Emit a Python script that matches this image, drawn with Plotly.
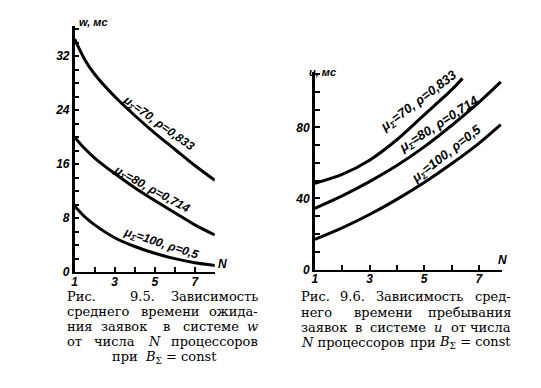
import plotly.graph_objects as go

W, H = 541, 388
OFF = 8  # the page body margin shifts the plot by this many pixels

# ---------- data: Fig 9.5 (waiting time w vs N) ----------
n_left = [1, 1.5, 2, 3, 4, 5, 6, 7, 8]
w_70 = [34.5, 31.5, 29.3, 26.0, 23.2, 20.6, 18.2, 15.8, 13.6]
w_80 = [20.0, 18.3, 16.9, 14.6, 12.5, 10.6, 8.8, 7.0, 5.5]
w_100 = [9.8, 8.2, 7.0, 5.1, 3.8, 2.8, 2.0, 1.4, 1.0]

# ---------- data: Fig 9.6 (residence time u vs N) ----------
n_r70 = [1, 2, 3, 4, 5, 6, 6.4]
u_70 = [48.5, 53.5, 61.5, 73.0, 87.0, 101.0, 107.5]
n_r = [1, 2, 3, 4, 5, 6, 7, 7.8]
u_80 = [34.5, 41.5, 49.5, 58.5, 69.0, 81.0, 94.0, 105.5]
u_100 = [17.0, 23.5, 31.0, 39.5, 49.0, 59.5, 71.0, 81.5]

left_yticks = list(range(0, 37, 2))
left_ylabels = ["0", "8", "16", "24", "32"]
right_yticks = list(range(0, 111, 10))
right_ylabels = ["0", "40", "80"]
xticks_left = list(range(1, 9))
xticks_right = list(range(1, 8))
xlabels = ["1", "3", "5", "7"]

curve_labels = ["μ<sub>Σ</sub>=70, ρ=0,833", "μ<sub>Σ</sub>=80, ρ=0,714", "μ<sub>Σ</sub>=100, ρ=0,5"]


def fx(x):
    return (x - OFF) / W


def fy(y):
    return 1 - (y - OFF) / H


sans = "Liberation Sans Narrow, Liberation Sans, Arial, sans-serif"
tickfont = dict(family=sans, size=12, color="black", style="italic", weight="bold")
lblfont = dict(family=sans, size=12, color="black", style="italic", weight="bold")
lblfont_r = dict(family=sans, size=13, color="black", style="italic", weight="bold")
titlefont = dict(family=sans, size=11, color="black", style="italic", weight="bold")
capfont = dict(family="DejaVu Serif, Liberation Serif, serif", size=13, color="black")

fig = go.Figure()
line = dict(color="black", width=3, shape="spline", smoothing=0.8)
for ys in (w_70, w_80, w_100):
    fig.add_trace(go.Scatter(x=n_left, y=ys, mode="lines", line=line,
                             xaxis="x", yaxis="y", showlegend=False, hoverinfo="skip"))
fig.add_trace(go.Scatter(x=n_r70, y=u_70, mode="lines", line=line,
                         xaxis="x2", yaxis="y2", showlegend=False, hoverinfo="skip"))
for ys in (u_80, u_100):
    fig.add_trace(go.Scatter(x=n_r, y=ys, mode="lines", line=line,
                             xaxis="x2", yaxis="y2", showlegend=False, hoverinfo="skip"))


def tt(vals, labels):
    return [str(v) if str(v) in labels else "" for v in vals]


axcommon = dict(showline=True, linecolor="black", ticks="inside",
                ticklen=5, tickwidth=1.5, tickcolor="black", showgrid=False,
                zeroline=False, tickfont=tickfont, fixedrange=True)

fig.update_layout(
    width=W, height=H, margin=dict(l=0, r=0, t=0, b=0),
    paper_bgcolor="white", plot_bgcolor="white", showlegend=False,
    xaxis=dict(domain=[fx(72), fx(213)], range=[1, 8], anchor="y", linewidth=2,
               ticklabelstandoff=-3,
               tickvals=xticks_left, ticktext=tt(xticks_left, xlabels), **axcommon),
    yaxis=dict(domain=[fy(277), fy(26)], range=[0, 36.5], anchor="x", linewidth=2.5,
               tickvals=left_yticks, ticktext=tt(left_yticks, left_ylabels), **axcommon),
    xaxis2=dict(domain=[fx(313.5), fx(502)], range=[1, 1 + (502 - 313.5) / 27.5], anchor="y2",
                linewidth=2, ticklabelstandoff=-3,
                tickvals=xticks_right, ticktext=tt(xticks_right, xlabels), **axcommon),
    yaxis2=dict(domain=[fy(274.5), fy(73)], range=[0, (274.5 - 73) / 1.8125], anchor="x2",
                linewidth=2.5,
                tickvals=right_yticks, ticktext=tt(right_yticks, right_ylabels), **axcommon),
)

ann = []
# axis titles / N labels
ann.append(dict(x=fx(74), y=fy(14), xref="paper", yref="paper", text="<i>w</i>, мс",
                xanchor="left", showarrow=False, font=titlefont))
ann.append(dict(x=fx(306), y=fy(65), xref="paper", yref="paper", text="<i>u</i>, мс",
                xanchor="left", showarrow=False, font=titlefont))
ann.append(dict(x=fx(221), y=fy(278), xref="paper", yref="paper", text="N",
                showarrow=False, font=tickfont))
ann.append(dict(x=fx(509), y=fy(274), xref="paper", yref="paper", text="N",
                showarrow=False, font=tickfont))

# curve labels, left chart
for (x, y, a), t in zip([(5.2, 22.0, 36), (4.85, 12.2, 29), (5.3, 4.2, 18)], curve_labels):
    ann.append(dict(x=x, y=y, xref="x", yref="y", text=t, textangle=a,
                    showarrow=False, font=lblfont))
# curve labels, right chart
for (x, y, a), t in zip([(4.8, 94.5, -37), (5.55, 81.5, -33), (5.8, 65.0, -38)], curve_labels):
    ann.append(dict(x=x, y=y, xref="x2", yref="y2", text=t, textangle=a,
                    showarrow=False, font=lblfont_r))

# captions (justified by placing words)
left_cap = [
    (301.5, [("Рис.", 62, "left"), ("9.5.", 140, "center"), ("Зависимость", 258, "right")]),
    (317, [("среднего", 62, "left"), ("времени", 168, "center"), ("ожида-", 258, "right")]),
    (332.5, [("ния", 62, "left"), ("заявок", 122, "center"), ("в", 164, "center"),
             ("системе", 209, "center"), ("<i>w</i>", 258, "right")]),
    (348, [("от", 62, "left"), ("числа", 112, "center"), ("<i>N</i>", 152, "center"),
           ("процессоров", 258, "right")]),
    (364, [("при  <i>B</i><sub>Σ</sub> = const", 162, "center")]),
]
right_cap = [
    (302, [("Рис.", 298, "left"), ("9.6.", 351, "center"), ("Зависимость", 419, "center"),
           ("сред-", 513, "right")]),
    (318, [("него", 298, "left"), ("времени", 382, "center"), ("пребывания", 513, "right")]),
    (333, [("заявок", 298, "left"), ("в", 357, "center"), ("системе", 397, "center"),
           ("<i>u</i>", 437, "center"), ("от", 458, "center"), ("числа", 513, "right")]),
    (349, [("<i>N</i> процессоров", 298, "left"), ("при", 422, "center"),
           ("<i>B</i><sub>Σ</sub> = const", 513, "right")]),
]
for y, words in left_cap + right_cap:
    for t, x, anc in words:
        ann.append(dict(x=fx(x), y=fy(y), xref="paper", yref="paper", text=t,
                        xanchor=anc, yanchor="middle", showarrow=False, font=capfont))

fig.update_layout(annotations=ann)
fig.write_html("out.html")
